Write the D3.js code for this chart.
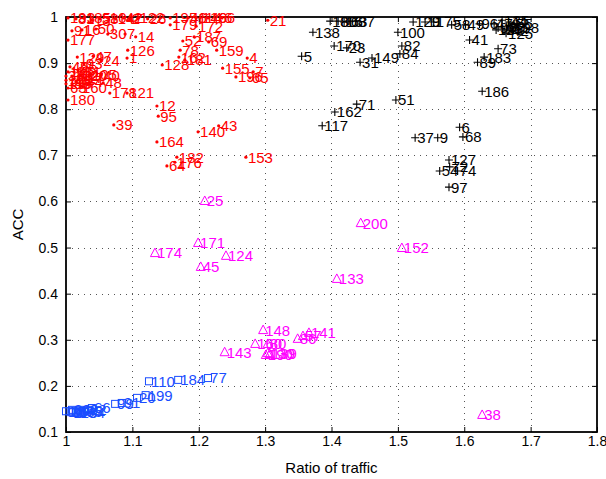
<!DOCTYPE html>
<html>
<head>
<meta charset="utf-8">
<script src="https://cdn.jsdelivr.net/npm/d3@7"></script>
<style>
  body { margin: 0; background: #fff; }
  svg text { font-family: "Liberation Sans", Arial, sans-serif; }
</style>
</head>
<body>
<div id="chart"></div>
<script>
// Data: [label, ratio of traffic, ACC]
const redPoints = [
	["193", 1.003, 0.998], ["81", 1.015, 0.996], ["185", 1.027, 0.998], ["13", 1.039, 0.993],
	["58", 1.051, 0.996], ["10", 1.063, 0.998], ["147", 1.075, 0.996], ["42", 1.087, 0.998],
	["2", 1.096, 0.996], ["122", 1.108, 0.998], ["26", 1.123, 0.996], ["195", 1.157, 0.998],
	["46", 1.184, 0.998], ["114", 1.196, 0.998], ["146", 1.202, 0.998], ["166", 1.214, 0.998],
	["6", 1.235, 0.998], ["179", 1.157, 0.983], ["172", 1.196, 0.98],
	["177", 1.003, 0.95], ["91", 1.009, 0.97], ["16", 1.024, 0.972], ["50", 1.045, 0.974],
	["30", 1.063, 0.963], ["7", 1.089, 0.963], ["14", 1.105, 0.957],
	["126", 1.093, 0.928], ["1", 1.092, 0.911], ["129", 1.017, 0.913], ["47", 1.041, 0.915],
	["24", 1.053, 0.905],
	["49", 1.006, 0.892], ["93", 1.027, 0.898], ["145", 1.003, 0.881], ["85", 1.018, 0.885],
	["102", 1.009, 0.872], ["33", 1.0, 0.872], ["131", 1.012, 0.881], ["120", 1.021, 0.872],
	["105", 1.036, 0.876], ["17", 1.029, 0.868], ["113", 1.0, 0.863], ["36", 1.012, 0.866],
	["144", 1.015, 0.859], ["115", 1.0, 0.855], ["86", 1.009, 0.855], ["63", 1.003, 0.846],
	["40", 1.053, 0.874], ["48", 1.056, 0.857], ["160", 1.021, 0.846], ["180", 1.003, 0.82],
	["178", 1.066, 0.835], ["121", 1.092, 0.835],
	["128", 1.145, 0.896], ["52", 1.176, 0.948], ["187", 1.193, 0.957], ["69", 1.215, 0.946],
	["78", 1.172, 0.928], ["162", 1.17, 0.913], ["181", 1.179, 0.907], ["159", 1.227, 0.928],
	["4", 1.273, 0.911], ["155", 1.236, 0.889], ["196", 1.256, 0.87], ["65", 1.277, 0.868],
	["7", 1.282, 0.881], ["21", 1.304, 0.993],
	["12", 1.137, 0.807], ["95", 1.139, 0.785], ["39", 1.072, 0.766], ["140", 1.199, 0.751],
	["43", 1.23, 0.764], ["164", 1.137, 0.729], ["153", 1.271, 0.696], ["182", 1.167, 0.696],
	["176", 1.164, 0.685], ["64", 1.152, 0.677],
];

const blackPoints = [
	["138", 1.372, 0.967], ["5", 1.355, 0.915], ["18", 1.398, 0.991], ["80", 1.41, 0.991],
	["15", 1.419, 0.989], ["63", 1.426, 0.991], ["87", 1.437, 0.991], ["170", 1.404, 0.937],
	["23", 1.423, 0.933], ["31", 1.443, 0.902], ["149", 1.461, 0.911], ["100", 1.5, 0.967],
	["82", 1.506, 0.937], ["84", 1.503, 0.92], ["129", 1.523, 0.989], ["11", 1.541, 0.989],
	["175", 1.554, 0.989], ["58", 1.581, 0.983], ["49", 1.602, 0.983], ["96", 1.623, 0.985],
	["47", 1.645, 0.985], ["99", 1.651, 0.976], ["135", 1.657, 0.993], ["28", 1.66, 0.972],
	["88", 1.664, 0.98], ["44", 1.667, 0.989], ["198", 1.672, 0.976], ["55", 1.675, 0.985],
	["125", 1.663, 0.965], ["42", 1.669, 0.97], ["19", 1.648, 0.972],
	["41", 1.608, 0.95], ["73", 1.651, 0.931], ["183", 1.63, 0.913], ["89", 1.62, 0.902],
	["186", 1.627, 0.839], ["51", 1.497, 0.82], ["71", 1.438, 0.811], ["162", 1.405, 0.794],
	["117", 1.386, 0.764], ["37", 1.526, 0.738], ["9", 1.56, 0.738], ["6", 1.593, 0.761],
	["68", 1.598, 0.74], ["127", 1.577, 0.69], ["72", 1.578, 0.675], ["54", 1.563, 0.666],
	["74", 1.59, 0.666], ["97", 1.577, 0.631],
];

const magentaPoints = [
	["25", 1.209, 0.601], ["200", 1.444, 0.553], ["171", 1.199, 0.51], ["174", 1.134, 0.488],
	["124", 1.241, 0.482], ["45", 1.203, 0.458], ["152", 1.506, 0.499], ["133", 1.408, 0.432],
	["148", 1.297, 0.321], ["141", 1.366, 0.315], ["86", 1.349, 0.302], ["57", 1.357, 0.308],
	["160", 1.285, 0.291], ["80", 1.304, 0.291], ["143", 1.239, 0.273], ["130", 1.304, 0.271],
	["139", 1.307, 0.269], ["190", 1.301, 0.267], ["38", 1.627, 0.137],
];

const bluePoints = [
	["110", 1.125, 0.21], ["184", 1.169, 0.213], ["77", 1.214, 0.217], ["20", 1.107, 0.174],
	["199", 1.12, 0.18], ["99", 1.074, 0.161], ["91", 1.084, 0.163], ["66", 1.039, 0.152],
	["18", 1.0, 0.145], ["26", 1.005, 0.145], ["34", 1.009, 0.148], ["53", 1.015, 0.145],
	["62", 1.021, 0.148], ["75", 1.027, 0.145], ["92", 1.033, 0.148], ["118", 1.008, 0.143],
	["134", 1.018, 0.143],
];

const xTicks = [1, 1.1, 1.2, 1.3, 1.4, 1.5, 1.6, 1.7, 1.8];
const yTicks = [0.1, 0.2, 0.3, 0.4, 0.5, 0.6, 0.7, 0.8, 0.9, 1];

const W = 606, H = 479;
const mLeft = 66, mRight = 597, mTop = 17, mBottom = 432;

const svg = d3.select("#chart").append("svg")
	.attr("width", W).attr("height", H);

const xScale = d3.scaleLinear().domain([1, 1.8]).range([mLeft, mRight]);
const yScale = d3.scaleLinear().domain([0.1, 1]).range([mBottom, mTop]);

// dotted grid
const grid = svg.append("g").attr("class", "grid")
	.attr("stroke", "#555").attr("stroke-width", 1).attr("stroke-dasharray", "1,5");
grid.selectAll("line.gx").data(xTicks.slice(1, -1)).enter().append("line")
	.attr("x1", (d) => Math.round(xScale(d)) + 0.5).attr("x2", (d) => Math.round(xScale(d)) + 0.5)
	.attr("y1", mBottom).attr("y2", mTop);
grid.selectAll("line.gy").data(yTicks.slice(1, -1)).enter().append("line")
	.attr("y1", (d) => Math.round(yScale(d)) + 0.5).attr("y2", (d) => Math.round(yScale(d)) + 0.5)
	.attr("x1", mLeft).attr("x2", mRight);

// axes with inward ticks
const fmt = (d) => String(d);
svg.append("g").attr("transform", `translate(0,${mBottom})`)
	.call(d3.axisBottom(xScale).tickValues(xTicks).tickFormat(fmt).tickSizeInner(-5).tickSizeOuter(0).tickPadding(4));
svg.append("g").attr("transform", `translate(${mLeft},0)`)
	.call(d3.axisLeft(yScale).tickValues(yTicks).tickFormat(fmt).tickSizeInner(-5).tickSizeOuter(0).tickPadding(8));
svg.append("g").attr("transform", `translate(0,${mTop})`)
	.call(d3.axisTop(xScale).tickValues(xTicks).tickFormat("").tickSizeInner(-5).tickSizeOuter(0));
svg.append("g").attr("transform", `translate(${mRight},0)`)
	.call(d3.axisRight(yScale).tickValues(yTicks).tickFormat("").tickSizeInner(-5).tickSizeOuter(0));

svg.selectAll(".domain").remove();
svg.selectAll(".tick line").attr("stroke", "#000").attr("stroke-width", 1);
svg.selectAll(".tick text").attr("font-size", 14).attr("fill", "#000")
	.style("font-family", '"Liberation Sans", Arial, sans-serif');

// frame
svg.append("rect")
	.attr("x", mLeft).attr("y", mTop)
	.attr("width", mRight - mLeft).attr("height", mBottom - mTop)
	.attr("fill", "none").attr("stroke", "#000").attr("stroke-width", 1.8);

// axis titles
svg.append("text").attr("x", (mLeft + mRight) / 2).attr("y", 473)
	.attr("text-anchor", "middle").attr("font-size", 15).text("Ratio of traffic");
svg.append("text").attr("transform", `translate(23,${(mTop + mBottom) / 2}) rotate(-90)`)
	.attr("text-anchor", "middle").attr("font-size", 15).text("ACC");

// series
const groups = [
	{ pts: redPoints, color: "#ff0000", marker: "dot" },
	{ pts: blackPoints, color: "#000000", marker: "plus" },
	{ pts: magentaPoints, color: "#ff00ff", marker: "tri" },
	{ pts: bluePoints, color: "#1a4dff", marker: "square" },
];

groups.forEach((grp) => {
	const g = svg.append("g");
	const sel = g.selectAll("g.pt").data(grp.pts).enter().append("g")
		.attr("transform", (d) => `translate(${xScale(d[1])},${yScale(d[2])})`);

	if (grp.marker === "dot") {
		sel.append("circle").attr("r", 1.6).attr("fill", grp.color);
	} else if (grp.marker === "plus") {
		sel.append("path").attr("d", "M-4,0H4M0,-4V4")
			.attr("stroke", grp.color).attr("stroke-width", 1.1).attr("fill", "none");
	} else if (grp.marker === "tri") {
		sel.append("path").attr("d", "M0,-5L4.5,3.5L-4.5,3.5Z")
			.attr("stroke", grp.color).attr("stroke-width", 1).attr("fill", "none");
	} else {
		sel.append("rect").attr("x", -3.5).attr("y", -3.5).attr("width", 7).attr("height", 7)
			.attr("stroke", grp.color).attr("stroke-width", 1).attr("fill", "none");
	}

	sel.append("text")
		.attr("x", 2).attr("dy", "0.36em")
		.attr("font-size", 15).attr("fill", grp.color)
		.text((d) => d[0]);
});
</script>
</body>
</html>
